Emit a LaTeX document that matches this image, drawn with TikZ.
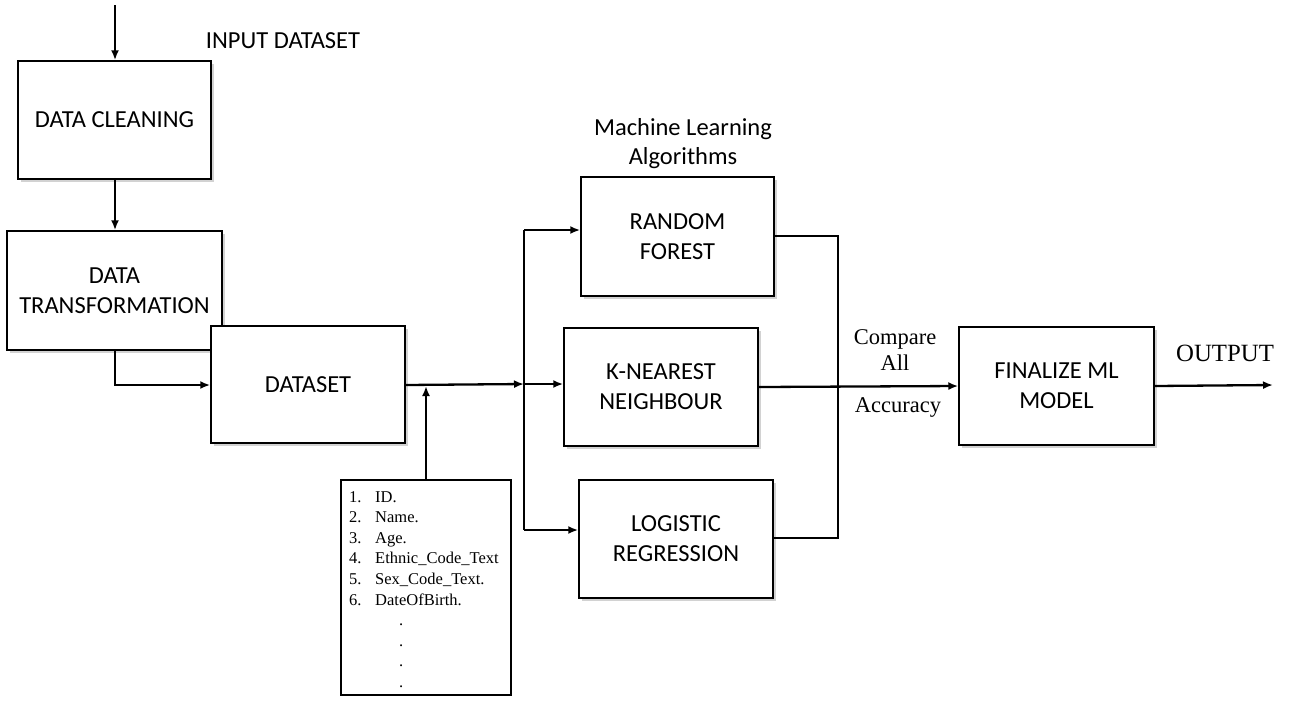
\documentclass[tikz,border=0pt]{standalone}
\usepackage{fontspec}
\setmainfont{Liberation Serif}
\newfontfamily\boxfont{Carlito}
\usetikzlibrary{arrows.meta,shadows}
\begin{document}
\begin{tikzpicture}[x=1pt,y=-1pt,
  procbox/.style={draw=black,line width=1.5pt,fill=white,align=center,
    font=\boxfont\fontsize{24.5}{30}\selectfont,inner sep=0pt,
    drop shadow={opacity=0.35,shadow xshift=2.5pt,shadow yshift=-2.5pt}},
  conn/.style={line width=2.3pt,draw=black},
  arr/.style={conn,-{Latex[length=10pt,width=8pt]}},
  lbl/.style={font=\fontsize{22.5}{26}\selectfont,align=center,inner sep=0pt},
  toplbl/.style={font=\boxfont\fontsize{24.5}{29}\selectfont,align=center,inner sep=0pt}]
\useasboundingbox (0,0) rectangle (1295,721);
\fill[white] (0,0) rectangle (1295,721);

\node[procbox,minimum width=193pt,minimum height=118pt] (clean) at (114.5,120) {DATA CLEANING};
\node[procbox,minimum width=215pt,minimum height=119pt] (trans) at (114.5,290.5) {DATA\\TRANSFORMATION};
\node[procbox,minimum width=194pt,minimum height=117pt] (ds) at (308,384.5) {DATASET};
\node[procbox,minimum width=193pt,minimum height=119pt] (rf) at (677.5,236.5) {RANDOM\\FOREST};
\node[procbox,minimum width=194pt,minimum height=118pt] (knn) at (661,387) {K-NEAREST\\NEIGHBOUR};
\node[procbox,minimum width=194pt,minimum height=118pt] (lr) at (676,539) {LOGISTIC\\REGRESSION};
\node[procbox,minimum width=195pt,minimum height=118pt] (fin) at (1056.5,386) {FINALIZE ML\\MODEL};
\node[draw=black,line width=1.2pt,fill=white,minimum width=170pt,minimum height=215pt,inner sep=0pt] (list) at (426,587.5) {};
\node[anchor=north west,align=left,inner sep=0pt,font=\fontsize{16.5}{20.6}\selectfont] (listtxt) at (349,491)
 {\makebox[26pt][l]{1.}ID.\\
  \makebox[26pt][l]{2.}Name.\\
  \makebox[26pt][l]{3.}Age.\\
  \makebox[26pt][l]{4.}Ethnic\_Code\_Text\\
  \makebox[26pt][l]{5.}Sex\_Code\_Text.\\
  \makebox[26pt][l]{6.}DateOfBirth.\\
  \hspace*{50pt}.\\
  \hspace*{50pt}.\\
  \hspace*{50pt}.\\
  \hspace*{50pt}.};

\node[toplbl] (inlbl) at (283,41) {INPUT DATASET};
\node[toplbl] (mllbl) at (683,143.5) {Machine Learning\\Algorithms};
\node[lbl] (cmp) at (895,350) {Compare\\All};
\node[lbl] (acc) at (898,407) {Accuracy};
\node[font=\fontsize{24.8}{28}\selectfont,inner sep=0pt] (outlbl) at (1225,353) {OUTPUT};

\coordinate (top) at (115,5);
\coordinate (tbend) at (115,385);
\coordinate (dsout) at (ds.east |- 0,385);
\coordinate (jn) at (524,384);
\coordinate (jtop) at (524,230);
\coordinate (jbot) at (524,530);
\coordinate (mid) at (426,386);
\coordinate (rfo) at (rf.east |- 0,236);
\coordinate (c1) at (838,236);
\coordinate (c2) at (838,538);
\coordinate (lro) at (lr.east |- 0,538);
\coordinate (out) at (1273,385);

\draw[arr] (top) -- (clean.north -| top);
\draw[arr] (clean.south -| top) -- (trans.north -| top);
\draw[arr] (trans.south -| top) -- (tbend) -- (ds.west |- tbend);
\draw[arr] (dsout) -- (jn);
\draw[arr] (list.north) -- (mid);
\draw[conn] (jtop) -- (jbot);
\draw[arr] (jtop) -- (rf.west |- jtop);
\draw[arr] (jn) -- (knn.west |- jn);
\draw[arr] (jbot) -- (lr.west |- jbot);
\draw[conn] (rfo) -- (c1) -- (c2) -- (lro);
\draw[arr] (knn.east) -- (fin.west);
\draw[arr] (fin.east) -- (out);
\end{tikzpicture}
\end{document}
